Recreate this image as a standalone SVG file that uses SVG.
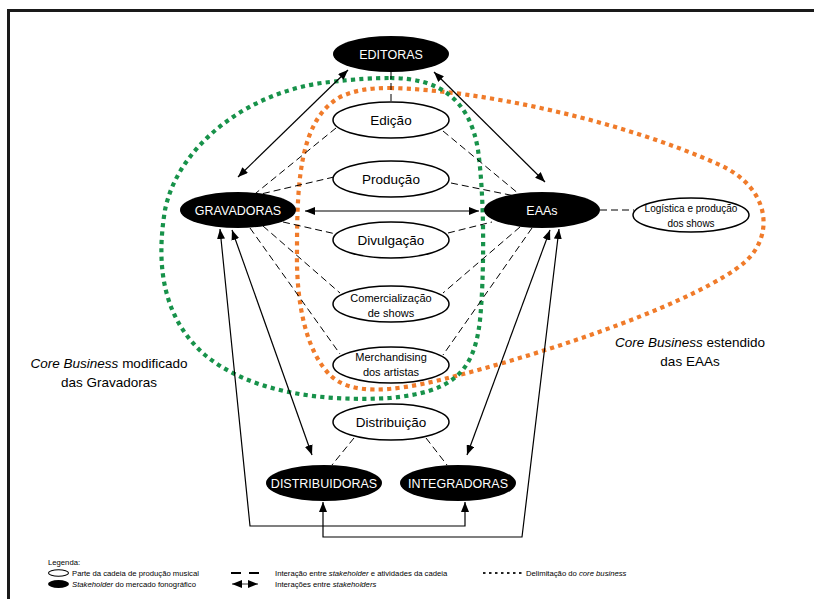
<svg xmlns="http://www.w3.org/2000/svg" width="814" height="599" viewBox="0 0 814 599">
<style>
text{font-family:"Liberation Sans",Arial,sans-serif}
.blk ellipse{fill:#000}
.blk text{fill:#fff;font-size:12.5px;text-anchor:middle}
.act ellipse{fill:#fff;stroke:#000;stroke-width:1.5}
.act text{fill:#000;font-size:13.5px;text-anchor:middle}
.act text.s{font-size:11px}
.act text.xs{font-size:10px}
.dash{stroke:#000;stroke-width:1;stroke-dasharray:7 4;fill:none}
.arr{stroke:#000;stroke-width:1.2;fill:none;marker-start:url(#ah);marker-end:url(#ah)}
.dot{fill:none;stroke-width:4.2;stroke-dasharray:4.2 4.2}
.lab{font-size:13.5px;fill:#000;text-anchor:middle}
.leg{font-size:7.7px;fill:#000}
</style>
<defs>
<marker id="ah" viewBox="0 0 10 8" refX="10" refY="4" markerWidth="10" markerHeight="8" markerUnits="userSpaceOnUse" orient="auto-start-reverse">
<path d="M0,0 L10,4 L0,8 z" fill="#000"/>
</marker>
</defs>
<rect width="814" height="599" fill="#fff"/>
<g id="frame" stroke="#1a1a1a" stroke-width="3" fill="none">
<path d="M8.5 599 V10.5 H814"/>
</g>
<g id="core-business">
<path class="dot" stroke="#f07b2a" d="M390 88 C480 90,620 120,720 165 C770 188,775 235,745 262 C700 300,560 350,440 380 C390 392,350 395,330 375 C305 350,296 300,297 250 C297 180,300 120,340 97 C355 90,370 88,390 88 Z"/>
<path class="dot" stroke="#17924a" d="M390 78 C440 78,470 100,478 150 C485 200,484 280,480 320 C474 375,450 392,390 398 C320 402,250 392,205 355 C165 320,155 270,165 210 C178 145,250 90,330 82 C355 79,375 78,390 78 Z"/>
</g>
<g id="connectors">
<line class="dash" x1="391" y1="72" x2="391" y2="102"/>
<line class="dash" x1="336" y1="128" x2="256" y2="193"/>
<line class="dash" x1="443" y1="131" x2="519" y2="194"/>
<line class="dash" x1="334" y1="177" x2="261" y2="194"/>
<line class="dash" x1="451" y1="183" x2="515" y2="196"/>
<line class="dash" x1="283" y1="222" x2="336" y2="234"/>
<line class="dash" x1="448" y1="233" x2="492" y2="222"/>
<line class="dash" x1="263" y1="226" x2="340" y2="293"/>
<line class="dash" x1="250" y1="228" x2="340" y2="354"/>
<line class="dash" x1="520" y1="227" x2="443" y2="293"/>
<line class="dash" x1="532" y1="228" x2="443" y2="355"/>
<line class="dash" x1="354" y1="438" x2="332" y2="465"/>
<line class="dash" x1="426" y1="438" x2="447" y2="465"/>
<line class="dash" x1="600" y1="210" x2="634" y2="210"/>
<line class="arr" x1="348" y1="70" x2="238" y2="177"/>
<line class="arr" x1="434" y1="72" x2="545" y2="182"/>
<line class="arr" x1="305" y1="211" x2="479" y2="211"/>
<line class="arr" x1="232" y1="230" x2="312" y2="455"/>
<line class="arr" x1="550" y1="230" x2="467" y2="455"/>
<path class="arr" d="M220 229 L250 526 L465 526 L465 502"/>
<path class="arr" d="M559 229 L522 537 L323 537 L323 502"/>
</g>
<g id="editoras" class="blk"><ellipse cx="391" cy="54" rx="58" ry="18"/><text x="391" y="58.5">EDITORAS</text></g>
<g id="gravadoras" class="blk"><ellipse cx="238" cy="210" rx="58" ry="18"/><text x="238" y="214.5">GRAVADORAS</text></g>
<g id="eaas" class="blk"><ellipse cx="542" cy="210" rx="58" ry="18"/><text x="542" y="214.5">EAAs</text></g>
<g id="distribuidoras" class="blk"><ellipse cx="324" cy="483" rx="58" ry="18"/><text x="324" y="487.5">DISTRIBUIDORAS</text></g>
<g id="integradoras" class="blk"><ellipse cx="458" cy="483" rx="58" ry="18"/><text x="458" y="487.5">INTEGRADORAS</text></g>
<g id="edicao" class="act"><ellipse cx="391" cy="120" rx="58" ry="18"/><text x="391" y="125">Edição</text></g>
<g id="producao" class="act"><ellipse cx="391" cy="179" rx="58" ry="18"/><text x="391" y="184">Produção</text></g>
<g id="divulgacao" class="act"><ellipse cx="391" cy="240" rx="58" ry="18"/><text x="391" y="245">Divulgação</text></g>
<g id="comercializacao" class="act"><ellipse cx="391" cy="304" rx="58" ry="18"/><text class="s" x="391" y="302">Comercialização</text><text class="s" x="391" y="317">de shows</text></g>
<g id="merchandising" class="act"><ellipse cx="391" cy="365" rx="58" ry="18"/><text class="s" x="391" y="361">Merchandising</text><text class="s" x="391" y="376">dos artistas</text></g>
<g id="distribuicao" class="act"><ellipse cx="391" cy="422" rx="58" ry="18"/><text x="391" y="427">Distribuição</text></g>
<g id="logistica" class="act"><ellipse cx="691" cy="215" rx="58" ry="17"/><text class="xs" x="691" y="211.5">Logística e produção</text><text class="xs" x="691" y="226.5">dos shows</text></g>
<g id="labels">
<text class="lab" x="109" y="368"><tspan font-style="italic">Core Business</tspan> modificado</text>
<text class="lab" x="109" y="387">das Gravadoras</text>
<text class="lab" x="690" y="347"><tspan font-style="italic">Core Business</tspan> estendido</text>
<text class="lab" x="690" y="366">das EAAs</text>
</g>
<g id="legend">
<text class="leg" x="48" y="565">Legenda:</text>
<ellipse cx="58.5" cy="573" rx="10" ry="3.3" fill="#fff" stroke="#000" stroke-width="1.1"/>
<text class="leg" x="72" y="576">Parte da cadeia de produção musical</text>
<ellipse cx="58.5" cy="584" rx="10.5" ry="4" fill="#000"/>
<text class="leg" x="72" y="587"><tspan font-style="italic">Stakeholder</tspan> do mercado fonográfico</text>
<path d="M231 573 H241 M249 573 H259" stroke="#000" stroke-width="2.2"/>
<line x1="232" y1="584" x2="258" y2="584" stroke="#000" stroke-width="0.8" marker-start="url(#ah)" marker-end="url(#ah)"/>
<text class="leg" x="275" y="576">Interação entre <tspan font-style="italic">stakeholder</tspan> e atividades da cadeia</text>
<text class="leg" x="275" y="587">Interações entre <tspan font-style="italic">stakeholders</tspan></text>
<line x1="483" y1="573" x2="523" y2="573" stroke="#222" stroke-width="1.8" stroke-dasharray="2.5 3.5"/>
<text class="leg" x="526" y="576">Delimitação do <tspan font-style="italic">core business</tspan></text>
</g>
</svg>
